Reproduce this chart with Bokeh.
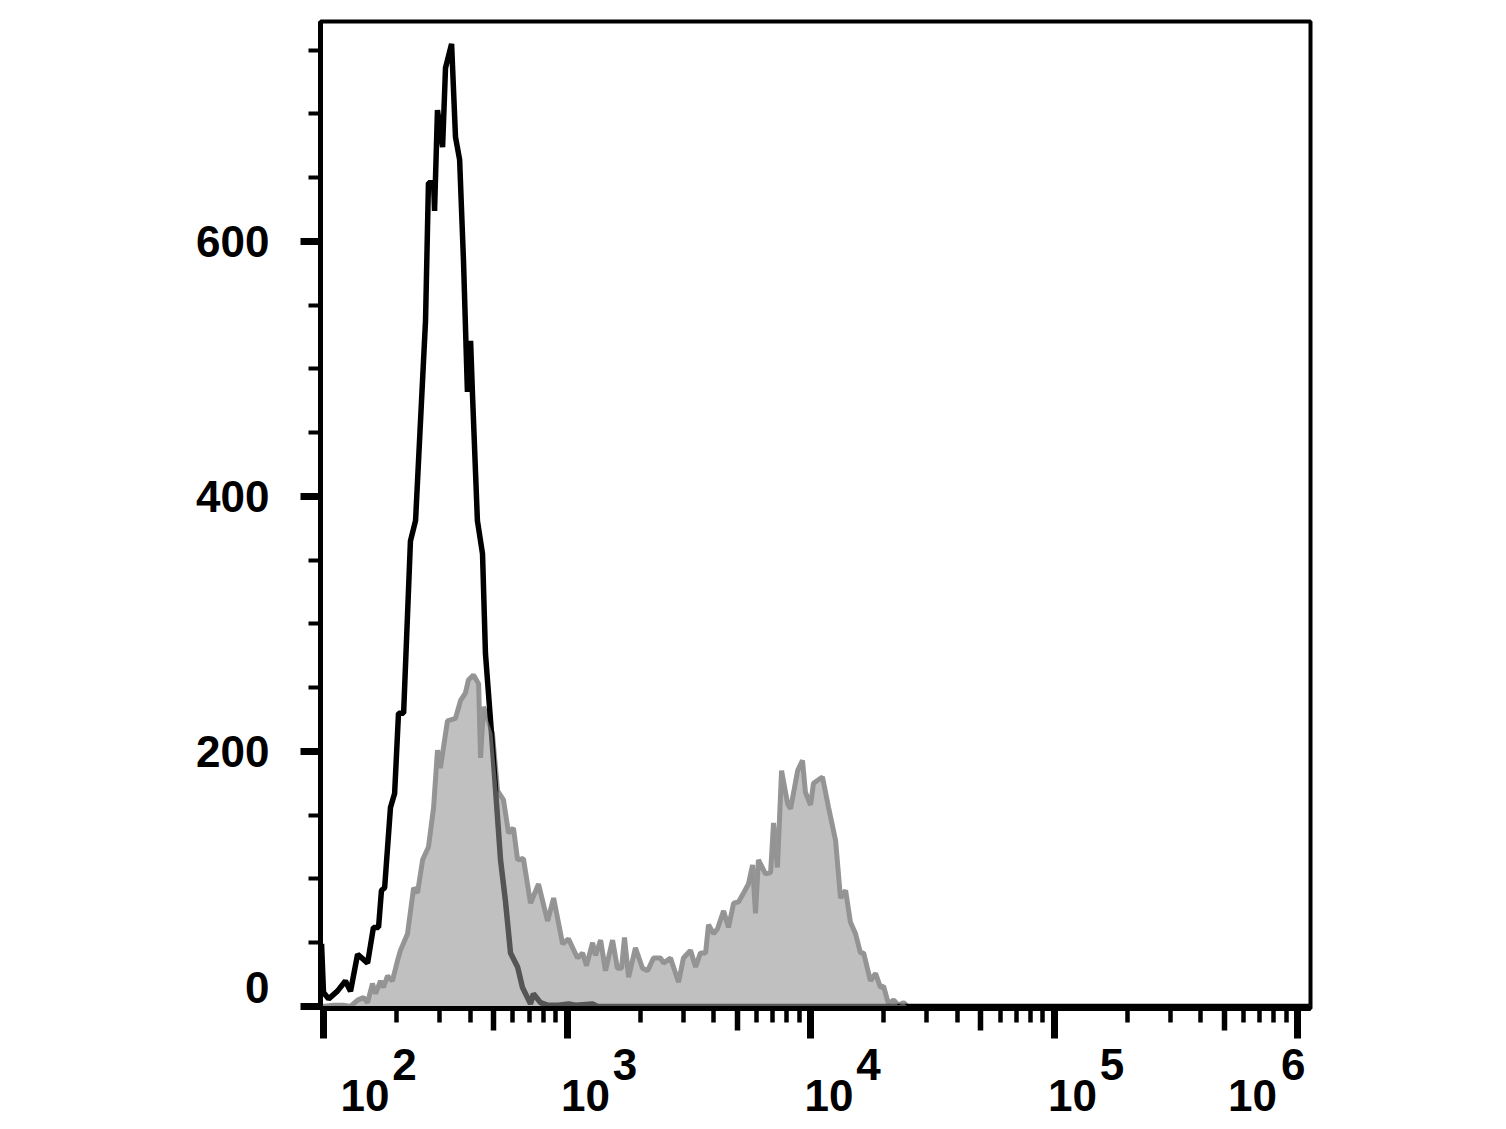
from bokeh.plotting import figure
from bokeh.models import (Range1d, FixedTicker, LogAxis, LinearAxis,
                          CustomJSTickFormatter)
from bokeh.embed import file_html
from bokeh.resources import INLINE

# ---------------- data ----------------
# x positions are stored as log10 of fluorescence intensity
unstained_log_fl = [1.992, 2.000, 2.021, 2.057, 2.090, 2.111, 2.140, 2.181, 2.205, 2.226,
                    2.238, 2.251, 2.275, 2.292, 2.308, 2.329, 2.357, 2.378, 2.419, 2.431,
                    2.452, 2.456, 2.468, 2.489, 2.501, 2.526, 2.542, 2.559, 2.575, 2.591,
                    2.604, 2.612, 2.632, 2.653, 2.665, 2.686, 2.698, 2.727, 2.747, 2.768,
                    2.797, 2.817, 2.850, 2.862, 2.891, 2.920, 2.965, 3.006, 3.035, 3.105,
                    3.125, 4.000, 5.000, 6.050]
unstained_count = [49, 11, 6, 12, 20, 12, 41, 34, 62, 62,
                   91, 93, 156, 167, 230, 230, 365, 381, 538, 646,
                   646, 624, 703, 674, 736, 755, 682, 664, 584, 482,
                   522, 479, 381, 355, 277, 224, 193, 115, 83, 42,
                   31, 15, 2, 10, 3, 1, 1, 2, 1, 2,
                   0, 0, 0, 0]

stained_log_fl = [1.996, 2.041, 2.082, 2.111, 2.140, 2.164, 2.181, 2.201, 2.214, 2.234,
                  2.246, 2.263, 2.283, 2.304, 2.316, 2.345, 2.370, 2.386, 2.407, 2.431,
                  2.452, 2.468, 2.480, 2.509, 2.542, 2.563, 2.583, 2.595, 2.616, 2.637,
                  2.645, 2.657, 2.694, 2.715, 2.739, 2.760, 2.780, 2.797, 2.821, 2.850,
                  2.883, 2.920, 2.945, 2.982, 3.006, 3.043, 3.064, 3.080, 3.105, 3.117,
                  3.138, 3.158, 3.187, 3.207, 3.224, 3.236, 3.253, 3.281, 3.310, 3.331,
                  3.355, 3.384, 3.396, 3.425, 3.458, 3.478, 3.507, 3.528, 3.548, 3.569,
                  3.581, 3.602, 3.618, 3.643, 3.663, 3.684, 3.704, 3.725, 3.745, 3.762,
                  3.774, 3.786, 3.815, 3.836, 3.848, 3.864, 3.881, 3.906, 3.918, 3.947,
                  3.967, 3.979, 4.000, 4.012, 4.049, 4.074, 4.103, 4.123, 4.144, 4.164,
                  4.185, 4.205, 4.218, 4.246, 4.267, 4.287, 4.300, 4.320, 4.341, 4.361,
                  4.382, 4.398, 5.000, 6.050]
stained_count = [0, 1, 1, 0, 5, 7, 3, 18, 10, 20,
                 15, 24, 20, 36, 44, 57, 93, 89, 115, 125,
                 156, 201, 187, 224, 226, 240, 246, 256, 260, 253,
                 195, 235, 214, 169, 162, 136, 140, 115, 116, 81,
                 96, 67, 85, 49, 53, 38, 42, 32, 50, 40,
                 52, 28, 52, 30, 30, 54, 23, 46, 30, 28,
                 38, 38, 34, 38, 19, 38, 44, 31, 42, 42,
                 64, 57, 61, 75, 62, 81, 82, 89, 96, 111,
                 73, 115, 104, 105, 144, 109, 185, 159, 155, 185,
                 193, 168, 158, 175, 180, 156, 130, 85, 91, 66,
                 57, 42, 42, 20, 26, 15, 16, 2, 5, 1,
                 3, 0, 0, 0]

decade_exponents = [2, 3, 4, 5, 6]
decade_base_text = ["10", "10", "10", "10", "10"]
decade_exp_text = ["2", "3", "4", "5", "6"]
y_tick_values = [0, 200, 400, 600]
y_tick_labels = ["0", "200", "400", "600"]

x_start, x_end = 97.2, 1.13e6
y_start, y_end = -1.6, 772.5

# ---------------- figure ----------------
FONT = "Liberation Sans"
LABEL_SIZE = "44px"

p = figure(width=1490, height=1125, x_axis_type="log",
           x_range=Range1d(x_start, x_end), y_range=Range1d(y_start, y_end),
           output_backend="svg", toolbar_location=None,
           min_border_left=320, min_border_right=180,
           min_border_top=21, min_border_bottom=117)
p.grid.visible = False
p.background_fill_color = "white"
p.border_fill_color = "white"
p.outline_line_color = "black"
p.outline_line_width = 4

ux = [10 ** v for v in unstained_log_fl]
sx = [10 ** v for v in stained_log_fl]

# stained outline, unstained line, translucent stained fill on top
p.line(sx, stained_count, line_color="#959595", line_width=5)
p.line(ux, unstained_count, line_color="black", line_width=5.5)
p.varea(x=sx, y1=[0] * len(sx), y2=stained_count, fill_color="#939393", fill_alpha=0.58)


def label_formatter(texts):
    return CustomJSTickFormatter(args=dict(labels=texts), code="return labels[index];")


def text_style(ax, standoff):
    ax.axis_line_color = None
    ax.major_tick_line_color = None
    ax.minor_tick_line_color = None
    ax.major_tick_out = 0
    ax.major_tick_in = 0
    ax.minor_tick_out = 0
    ax.minor_tick_in = 0
    ax.major_label_standoff = standoff
    ax.major_label_text_font = FONT
    ax.major_label_text_font_style = "bold"
    ax.major_label_text_font_size = LABEL_SIZE
    ax.major_label_text_color = "black"


def tick_style(ax, ticks, minor, out, width, minor_out=0, minor_width=1,
               line_width=None, tick_in=0):
    # an axis that only draws tick marks
    ax.ticker = FixedTicker(ticks=ticks, minor_ticks=minor)
    ax.major_label_overrides = {t: "" for t in ticks}
    ax.major_tick_out = out
    ax.major_tick_in = tick_in
    ax.major_tick_line_width = width
    ax.minor_tick_out = minor_out
    ax.minor_tick_in = 0
    ax.minor_tick_line_width = minor_width
    if not minor:
        ax.minor_tick_line_color = None
    if line_width is None:
        ax.axis_line_color = None
    else:
        ax.axis_line_width = line_width


# ---------------- y axis ----------------
Y_MAJOR_OUT = 20
tick_style(p.yaxis[0], y_tick_values, [v for v in range(0, 800, 50)],
           Y_MAJOR_OUT, 7, 12, 4, line_width=5)

ZERO_LABEL_LIFT = 15  # the "0" label sits a little above its tick, as in the reference
y_label_axis = LinearAxis(ticker=FixedTicker(ticks=[y_tick_values[0] + ZERO_LABEL_LIFT] + y_tick_values[1:],
                                             minor_ticks=[]),
                          formatter=label_formatter(y_tick_labels))
text_style(y_label_axis, 51 - Y_MAJOR_OUT)
p.add_layout(y_label_axis, "left")

# ---------------- x axis ----------------
X_MAJOR_OUT = 30
X_MID_LEN = 22
major_x = [10 ** e for e in decade_exponents]
tick_style(p.xaxis[0], major_x, [m * 10 ** e for e in range(1, 6) for m in range(2, 10)],
           X_MAJOR_OUT, 7, 14, 4.5, line_width=5)

# the half-decade ticks: this axis sits X_MAJOR_OUT below the frame, so its ticks
# are drawn inwards, back up to the frame edge
mid_axis = LogAxis()
tick_style(mid_axis, [5 * 10 ** e for e in range(2, 6)], [],
           X_MID_LEN - X_MAJOR_OUT, 5.5, tick_in=X_MAJOR_OUT)
p.add_layout(mid_axis, "below")

# decade labels "10" with a large raised exponent; horizontal placement in decades
base_shift = {2: 0.170, 6: -0.185}
exp_shift = {2: 0.333, 6: -0.018}
base_ticks = [10 ** (e + base_shift.get(e, 0.076)) for e in decade_exponents]
exp_ticks = [10 ** (e + exp_shift.get(e, 0.238)) for e in decade_exponents]

exp_axis = LogAxis(ticker=FixedTicker(ticks=exp_ticks, minor_ticks=[]),
                   formatter=label_formatter(decade_exp_text))
text_style(exp_axis, 40 - X_MAJOR_OUT)
p.add_layout(exp_axis, "below")

base_axis = LogAxis(ticker=FixedTicker(ticks=base_ticks, minor_ticks=[]),
                    formatter=label_formatter(decade_base_text))
text_style(base_axis, -3)
p.add_layout(base_axis, "below")

open("out.html", "w").write(file_html(p, INLINE))
